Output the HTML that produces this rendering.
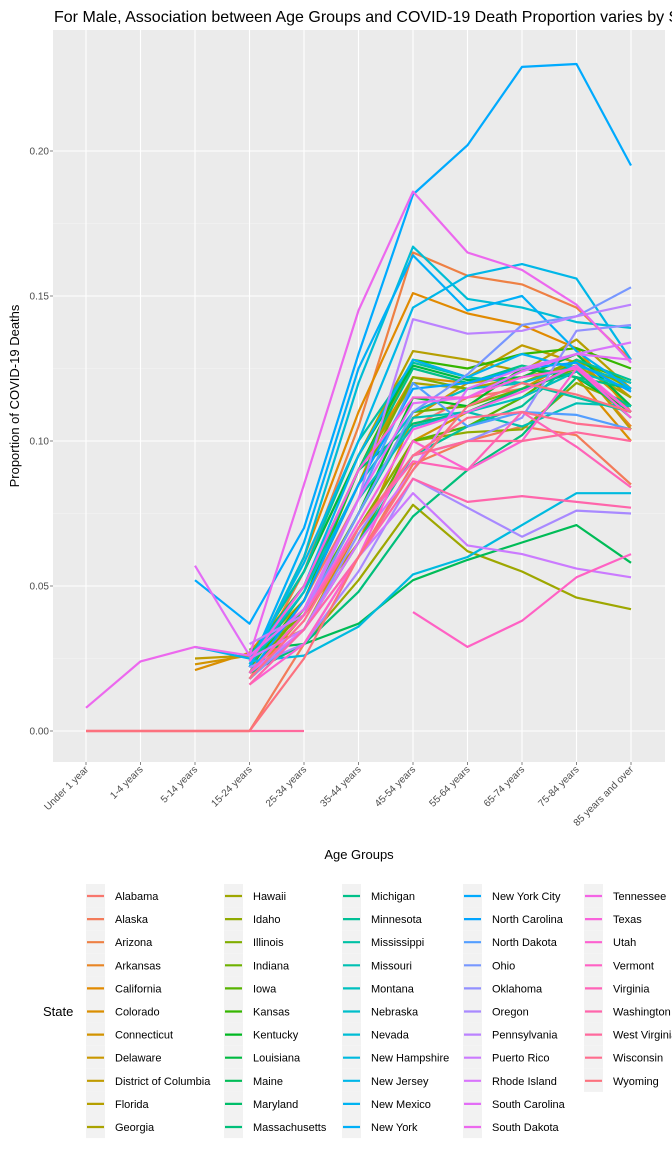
<!DOCTYPE html>
<html><head><meta charset="utf-8"><style>
body{margin:0;background:#fff;font-family:"Liberation Sans",sans-serif;}
svg{display:block}
</style></head><body>
<svg id="c" width="672" height="1152" xmlns="http://www.w3.org/2000/svg"></svg>
<script>
const categories=["Under 1 year","1-4 years","5-14 years","15-24 years","25-34 years","35-44 years","45-54 years","55-64 years","65-74 years","75-84 years","85 years and over"];
const yTicks=[0,0.05,0.10,0.15,0.20];
const yTickLabels=["0.00","0.05","0.10","0.15","0.20"];
const states=["Alabama","Alaska","Arizona","Arkansas","California","Colorado","Connecticut","Delaware","District of Columbia","Florida","Georgia","Hawaii","Idaho","Illinois","Indiana","Iowa","Kansas","Kentucky","Louisiana","Maine","Maryland","Massachusetts","Michigan","Minnesota","Mississippi","Missouri","Montana","Nebraska","Nevada","New Hampshire","New Jersey","New Mexico","New York","New York City","North Carolina","North Dakota","Ohio","Oklahoma","Oregon","Pennsylvania","Puerto Rico","Rhode Island","South Carolina","South Dakota","Tennessee","Texas","Utah","Vermont","Virginia","Washington","West Virginia","Wisconsin","Wyoming"];
const n=null;
const values=[
[n,n,n,.018,.045,.080,.105,.115,.118,.125,.108],
[0,0,0,0,.030,.060,.092,.100,.105,.102,.085],
[n,n,n,.020,.055,.105,.165,.157,.154,.146,.128],
[n,n,n,.018,.040,.075,.110,.118,.120,.126,.105],
[n,n,n,.022,.060,.110,.151,.144,.140,.132,.110],
[n,n,.021,.027,.050,.090,.122,.120,.125,.122,.100],
[n,n,.023,.026,.035,.070,.100,.110,.118,.128,.112],
[n,n,n,.028,.040,.065,.108,.120,.122,.130,.115],
[n,n,.025,.026,.045,.085,.128,.122,.133,.127,.104],
[n,n,n,.025,.055,.095,.131,.128,.124,.135,.118],
[n,n,n,.024,.050,.090,.120,.118,.122,.126,.115],
[n,n,n,.020,.030,.052,.078,.062,.055,.046,.042],
[n,n,n,.025,.040,.070,.100,.103,.104,.120,.112],
[n,n,n,.022,.045,.085,.122,.118,.120,.128,.118],
[n,n,n,.020,.042,.075,.110,.112,.118,.125,.110],
[n,n,n,.018,.035,.065,.100,.105,.115,.128,.120],
[n,n,n,.022,.045,.090,.128,.125,.130,.132,.125],
[n,n,n,.020,.040,.075,.115,.112,.125,.122,.110],
[n,n,n,.025,.055,.095,.126,.121,.122,.130,.112],
[n,n,n,.028,.030,.037,.052,.059,.065,.071,.058],
[n,n,n,.026,.050,.090,.106,.110,.118,.124,.108],
[n,n,n,.020,.030,.048,.074,.090,.102,.122,.118],
[n,n,n,.022,.048,.090,.125,.120,.126,.122,.112],
[n,n,n,.018,.035,.065,.095,.105,.112,.128,.121],
[n,n,n,.025,.055,.100,.127,.122,.120,.115,.110],
[n,n,n,.020,.040,.075,.108,.110,.105,.113,.112],
[n,n,n,.025,.042,.080,.105,.110,.115,.124,.118],
[n,n,n,.024,.048,.085,.110,.118,.120,.126,.120],
[n,n,n,.022,.060,.120,.167,.149,.146,.141,.139],
[n,n,n,.024,.026,.036,.054,.060,.071,.082,.082],
[n,n,n,.023,.058,.100,.146,.157,.161,.156,.128],
[n,n,.029,.025,.050,.095,.128,.122,.130,.125,.110],
[n,n,n,.022,.065,.125,.164,.145,.150,.131,.118],
[n,n,.052,.037,.070,.130,.185,.202,.229,.230,.195],
[n,n,n,.020,.045,.085,.118,.120,.125,.127,.117],
[n,n,n,.020,.040,.080,.120,.105,.110,.109,.104],
[n,n,n,.020,.040,.075,.110,.123,.140,.143,.153],
[n,n,n,.018,.035,.068,.095,.100,.108,.138,.140],
[n,n,n,.022,.030,.055,.087,.077,.067,.076,.075],
[n,n,n,.030,.040,.080,.142,.137,.138,.143,.147],
[n,n,n,.025,.035,.060,.082,.064,.061,.056,.053],
[n,n,n,.020,.035,.065,.090,.118,.125,.130,.134],
[n,n,.057,.026,.042,.080,.113,.115,.124,.130,.128],
[.008,.024,.029,.026,.085,.145,.186,.165,.159,.147,.127],
[n,n,n,.020,.040,.072,.104,.110,.117,.126,.110],
[n,n,n,.024,.050,.090,.115,.115,.122,.125,.108],
[n,n,n,.016,.030,.060,.100,.090,.100,.125,.110],
[n,n,n,n,n,n,.041,.029,.038,.053,.061],
[n,n,n,.020,.040,.070,.093,.090,.110,.098,.084],
[n,n,n,.016,.035,.060,.087,.079,.081,.079,.077],
[0,0,0,0,0,n,.095,.100,.100,.103,.100],
[n,n,n,.018,.038,.070,.095,.108,.110,.106,.104],
[0,0,0,0,.025,.060,.090,.112,.120,.116,.110]
];
function hcl(h,c,l){
  const r=h*Math.PI/180,u=c*Math.cos(r),v=c*Math.sin(r);
  const Xn=95.047,Yn=100,Zn=108.883;
  const Y=Math.pow((l+16)/116,3)*Yn;
  const un=4*Xn/(Xn+15*Yn+3*Zn),vn=9*Yn/(Xn+15*Yn+3*Zn);
  const up=u/(13*l)+un,vp=v/(13*l)+vn;
  const X=Y*9*up/(4*vp),Z=Y*(12-3*up-20*vp)/(4*vp);
  const x=X/100,y=Y/100,z=Z/100;
  let R=3.2406*x-1.5372*y-0.4986*z,G=-0.9689*x+1.8758*y+0.0415*z,B=0.0557*x-0.2040*y+1.0570*z;
  const g=t=>{t=t<=0.0031308?12.92*t:1.055*Math.pow(t,1/2.4)-0.055;return Math.round(Math.max(0,Math.min(1,t))*255);};
  return `rgb(${g(R)},${g(G)},${g(B)})`;
}
const N=states.length;
const colors=states.map((s,i)=>hcl(15+360*i/N,100,65));
const svg=document.getElementById('c');
const NS="http://www.w3.org/2000/svg";
function el(t,a,p){const e=document.createElementNS(NS,t);for(const k in a)e.setAttribute(k,a[k]);(p||svg).appendChild(e);return e;}
const PL=53,PR=665,PT=30,PB=762;
const xS=i=>86+i*54.5;
const yS=v=>731-v*2900;
const panel=el('rect',{x:PL,y:PT,width:PR-PL,height:PB-PT,fill:'#ebebeb'});


for(let k=0;k<4;k++){const v=0.025+k*0.05;const g=el('line',{x1:PL,x2:PR,y1:yS(v),y2:yS(v),stroke:'#f5f5f5','stroke-width':0.6});

}
yTicks.forEach((v,i)=>{
  const g=el('line',{x1:PL,x2:PR,y1:yS(v),y2:yS(v),stroke:'#fff','stroke-width':1.1});
  
  
  const t=el('text',{x:PL-4,y:yS(v)+3.5,'text-anchor':'end','font-size':10,fill:'#4d4d4d'});
  t.textContent=yTickLabels[i];
  
  
  el('line',{x1:PL-3,x2:PL,y1:yS(v),y2:yS(v),stroke:'#333','stroke-width':0.6});
});
categories.forEach((c,i)=>{
  const g=el('line',{x1:xS(i),x2:xS(i),y1:PT,y2:PB,stroke:'#fff','stroke-width':1.1});
  
  
  el('line',{x1:xS(i),x2:xS(i),y1:PB,y2:PB+3,stroke:'#333','stroke-width':0.6});
  const t=el('text',{x:xS(i)+3,y:PB+8,'text-anchor':'end','font-size':10,fill:'#4d4d4d',transform:`rotate(-45 ${xS(i)+3} ${PB+8})`});
  t.textContent=c;
  
  
});
values.forEach((vals,si)=>{
  let segs=[],cur=[];
  vals.forEach((v,i)=>{if(v===null){if(cur.length)segs.push(cur);cur=[];}else cur.push([xS(i),yS(v)]);});
  if(cur.length)segs.push(cur);
  segs.forEach(s=>{if(s.length<2)return;
    const p=el('polyline',{points:s.map(q=>q.join(',')).join(' '),fill:'none',stroke:colors[si],'stroke-width':2.2,'stroke-linejoin':'round'});
    
    
  });
});
const title=el('text',{x:54,y:22,'font-size':16,fill:'#000'});
title.textContent="For Male, Association between Age Groups and COVID-19 Death Proportion varies by State";


const yt=el('text',{x:19,y:396,'font-size':13,'text-anchor':'middle',transform:'rotate(-90 19 396)'});
yt.textContent="Proportion of COVID-19 Deaths";


const xt=el('text',{x:359,y:859,'font-size':13,'text-anchor':'middle'});
xt.textContent="Age Groups";


const lt=el('text',{x:43,y:1016,'font-size':13});
lt.textContent="State";


const colX=[87,225,343,464,585];
states.forEach((s,i)=>{
  const col=Math.floor(i/11),row=i%11;
  const x=colX[col],y=887+row*23.1;
  const g=el('g',{});
  
  
  el('rect',{x:x-1,y:y-3,width:19,height:23.1,fill:'#f2f2f2'},g);
  el('line',{x1:x,x2:x+17,y1:y+9,y2:y+9,stroke:colors[i],'stroke-width':2.2},g);
  const t=el('text',{x:x+28,y:y+13,'font-size':11},g);
  t.textContent=s;
});
</script>
</body></html>
